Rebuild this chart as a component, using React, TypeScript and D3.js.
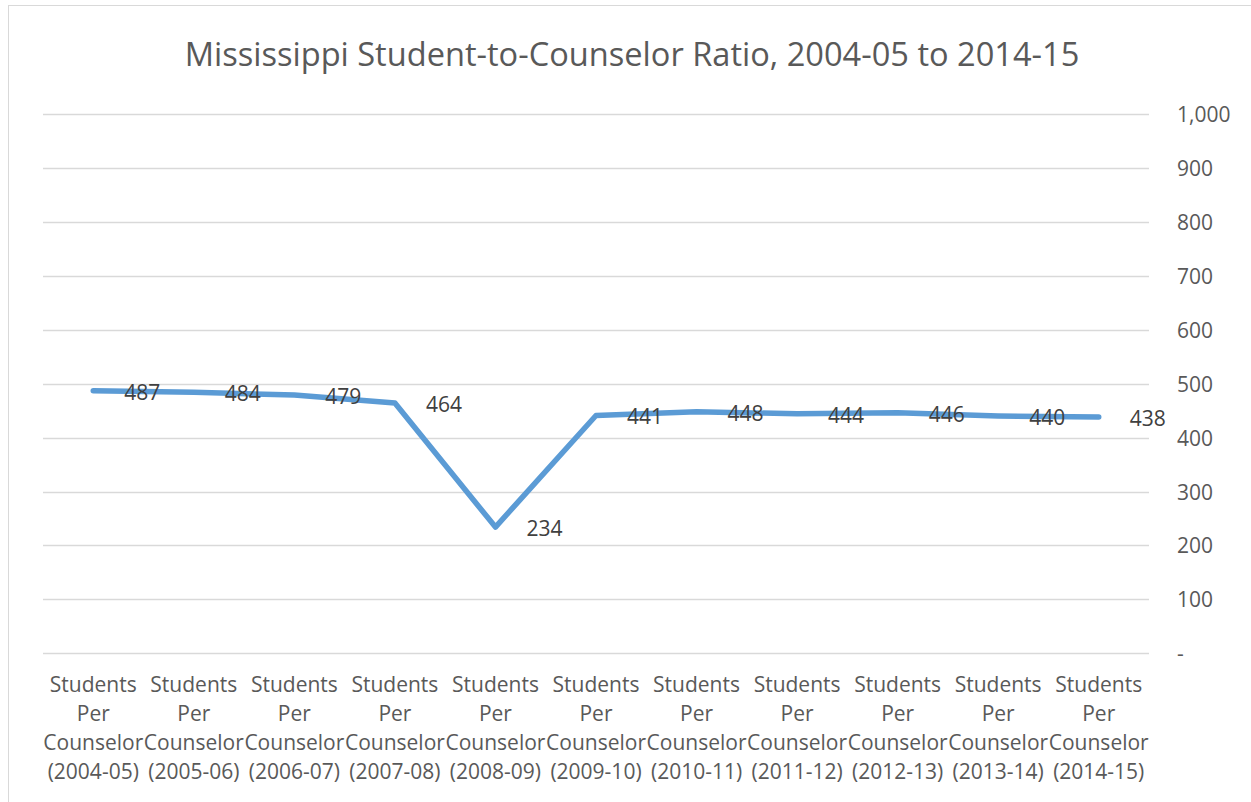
import React from 'react'
import * as d3 from 'd3'

const years = ['2004-05', '2005-06', '2006-07', '2007-08', '2008-09', '2009-10', '2010-11', '2011-12', '2012-13', '2013-14', '2014-15']
const ratios = [487, 484, 479, 464, 234, 441, 448, 444, 446, 440, 438]
const yTicks = [0, 100, 200, 300, 400, 500, 600, 700, 800, 900, 1000]
const categoryLines = ['Students', 'Per', 'Counselor']

const W = 1251
const H = 802
const FONT = '"Open Sans", sans-serif'

export default function App() {
    const x = d3.scalePoint<string>()
        .domain(years)
        .range([43, 1149])
        .padding(0.5)
    const y = d3.scaleLinear()
        .domain([0, 1000])
        .range([653.3, 114])

    const line = d3.line<number>()
        .x((_, i) => x(years[i]) as number)
        .y(d => y(d))

    const fmt = d3.format(',')

    return (
        <svg width={W} height={H} style={{ position: 'absolute', left: 0, top: 0, background: '#fff' }}>
            <rect x={8.5} y={5.5} width={W} height={H} fill="#fff" stroke="#d9d9d9" strokeWidth={1} />
            <text x={632} y={66} textAnchor="middle" fontFamily={FONT} fontSize={32.6} fill="#595959">
                Mississippi Student-to-Counselor Ratio, 2004-05 to 2014-15
            </text>

            {/* gridlines + right axis */}
            {yTicks.map(t => (
                <g key={t}>
                    <line x1={43} x2={1149} y1={Math.round(y(t)) + 0.5} y2={Math.round(y(t)) + 0.5} stroke="#d9d9d9" strokeWidth={1.3} />
                    <text x={1177} y={y(t)} dominantBaseline="central" fontFamily={FONT} fontSize={21} fill="#595959">
                        {t === 0 ? '-' : fmt(t)}
                    </text>
                </g>
            ))}

            <path d={line(ratios) || ''} fill="none" stroke="#5b9bd5" strokeWidth={5.5} strokeLinecap="round" strokeLinejoin="round" />

            {ratios.map((v, i) => (
                <text key={i} x={(x(years[i]) as number) + 31} y={y(v) + 1} dominantBaseline="central"
                    fontFamily={FONT} fontSize={21} fill="#404040">
                    {v}
                </text>
            ))}

            {/* category labels */}
            {years.map(yr => (
                <text key={yr} x={x(yr)} textAnchor="middle" fontFamily={FONT} fontSize={21} fill="#595959">
                    {[...categoryLines, `(${yr})`].map((s, j) => (
                        <tspan key={j} x={x(yr)} y={692 + j * 29}>{s}</tspan>
                    ))}
                </text>
            ))}
        </svg>
    )
}
